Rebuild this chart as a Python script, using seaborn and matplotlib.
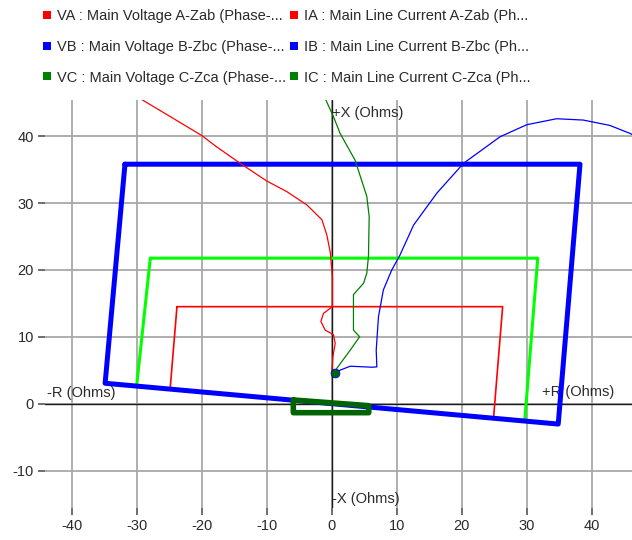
import matplotlib
matplotlib.use("Agg")
import matplotlib.pyplot as plt
from matplotlib.lines import Line2D
import seaborn as sns

# ---- Zone characteristics (R, X corners, closed) ----
zone3_r = [-31.8, 38.2, 34.85, -34.85, -31.8]
zone3_x = [35.8, 35.8, -3.05, 3.05, 35.8]

zone2_r = [-27.9, 31.7, 29.7, -30.0, -27.9]
zone2_x = [21.75, 21.75, -2.55, 2.65, 21.75]

zone1_r = [-23.8, 26.3, 24.9, -24.85, -23.8]
zone1_x = [14.5, 14.5, -2.15, 2.2, 14.5]

zone0_r = [-5.9, 5.7, 5.7, -5.9, -5.9]
zone0_x = [0.55, -0.3, -1.35, -1.35, 0.55]

# ---- Impedance trajectories ----
zab_r = [-29.8, -29.1, -24.8, -20.0, -17.7, -14.1, -10.0, -6.9, -3.8, -1.5, -0.74,
         -0.23, 0.12, 0.12, -1.26, -1.66, -1.0, 0.28, 0.54, 0.18, 0.03, 0.5]
zab_x = [46.0, 45.4, 42.9, 40.1, 38.4, 35.95, 33.3, 31.7, 29.7, 27.5, 25.2,
         22.7, 19.0, 14.5, 13.5, 12.3, 11.0, 10.3, 9.0, 7.0, 4.55, 4.6]

zbc_r = [0.5, 2.85, 6.2, 6.95, 6.85, 7.2, 7.95, 9.25, 10.5, 12.6, 16.2, 20.3,
         25.9, 30.0, 34.6, 38.7, 42.8, 45.9, 47.0]
zbc_x = [4.7, 5.6, 5.45, 5.5, 8.0, 13.0, 17.0, 20.0, 22.2, 26.7, 31.5, 35.95,
         39.9, 41.7, 42.6, 42.4, 41.6, 40.4, 39.9]

zca_r = [-1.0, -0.85, 0.28, 1.3, 3.6, 5.4, 5.77, 5.66, 5.4, 4.9, 3.35, 3.35,
         4.3, 2.85, 0.8, 0.5]
zca_x = [46.0, 45.3, 42.9, 40.4, 36.4, 31.0, 28.0, 22.0, 19.5, 18.0, 16.3,
         11.0, 10.0, 8.0, 5.3, 4.7]

end_r = [0.5]
end_x = [4.6]

# ---- Axes / legend text ----
x_ticks = [-40, -30, -20, -10, 0, 10, 20, 30, 40]
y_ticks = [-10, 0, 10, 20, 30, 40]
legend_left = ["VA : Main Voltage A-Zab (Phase-...",
               "VB : Main Voltage B-Zbc (Phase-...",
               "VC : Main Voltage C-Zca (Phase-..."]
legend_right = ["IA : Main Line Current A-Zab (Ph...",
                "IB : Main Line Current B-Zbc (Ph...",
                "IC : Main Line Current C-Zca (Ph..."]
phase_colors = ["#ff0000", "#0000ff", "#008000"]

sns.set_theme(style="white")
plt.rcParams["font.family"] = ["Liberation Sans", "DejaVu Sans"]
plt.rcParams["font.size"] = 10.5
plt.rcParams["axes.unicode_minus"] = False

fig = plt.figure(figsize=(6.32, 5.40), dpi=100)
ax = fig.add_axes([45 / 632, 32 / 540, 587 / 632, 408 / 540])

ax.set_xlim(-44.1, 46.2)
ax.set_ylim(-15.6, 45.4)
for s in ax.spines.values():
    s.set_visible(False)
ax.set_xticks(x_ticks)
ax.set_yticks(y_ticks)
ax.grid(True, color="#a8a8a8", lw=1.3, zorder=0)
ax.set_axisbelow(True)
ax.tick_params(axis="both", which="both", length=5, width=1.2, color="#555555",
               labelsize=10.5, labelcolor="#2a2a2a", pad=3, direction="out",
               bottom=True, left=True)

# origin axes
ax.axhline(0, color="#1a1a1a", lw=1.0, zorder=1)
ax.axvline(0, color="#1a1a1a", lw=1.0, zorder=1)

# axis captions inside the plot
cap = dict(fontsize=10.5, color="#2a2a2a", zorder=1.5, va="center", ha="left")
ax.text(0.1, 43.5, "+X (Ohms)", **cap)
ax.text(0.0, -14.3, "-X (Ohms)", **cap)
ax.text(-43.8, 1.65, "-R (Ohms)", **cap)
ax.text(32.4, 1.8, "+R (Ohms)", **cap)

# zones
sns.lineplot(x=zone1_r, y=zone1_x, sort=False, estimator=None, color="#ff0000",
             lw=1.2, ax=ax, zorder=2)
sns.lineplot(x=zone2_r, y=zone2_x, sort=False, estimator=None, color="#00ff00",
             lw=2.2, ax=ax, zorder=2.1)
sns.lineplot(x=zone3_r, y=zone3_x, sort=False, estimator=None, color="#0000ff",
             lw=3.6, ax=ax, zorder=2.2)
sns.lineplot(x=zone0_r, y=zone0_x, sort=False, estimator=None, color="#006400",
             lw=4.0, ax=ax, zorder=2.3)

# trajectories
sns.lineplot(x=zab_r, y=zab_x, sort=False, estimator=None, color="#ff0000",
             lw=0.9, ax=ax, zorder=3)
sns.lineplot(x=zbc_r, y=zbc_x, sort=False, estimator=None, color="#0000ff",
             lw=0.9, ax=ax, zorder=3)
sns.lineplot(x=zca_r, y=zca_x, sort=False, estimator=None, color="#008000",
             lw=0.9, ax=ax, zorder=3)
sns.scatterplot(x=end_r, y=end_x, color="#006400", s=40, edgecolor="#0000ff",
                linewidth=0.6, ax=ax, zorder=4)

# legends
def handles(labels):
    return [Line2D([], [], ls="none", marker="s", markersize=5.5, color=c,
                   markeredgewidth=0, label=l) for c, l in zip(phase_colors, labels)]

leg_kw = dict(loc="upper left", frameon=False, fontsize=10.5, handlelength=0.7,
              handletextpad=0.35, labelspacing=1.15, borderpad=0, borderaxespad=0,
              labelcolor="#2a2a2a")
fig.legend(handles=handles(legend_left), bbox_to_anchor=(42 / 632, 1 - 9 / 540), **leg_kw)
fig.legend(handles=handles(legend_right), bbox_to_anchor=(289 / 632, 1 - 9 / 540), **leg_kw)

fig.savefig("out.png", dpi=100)
